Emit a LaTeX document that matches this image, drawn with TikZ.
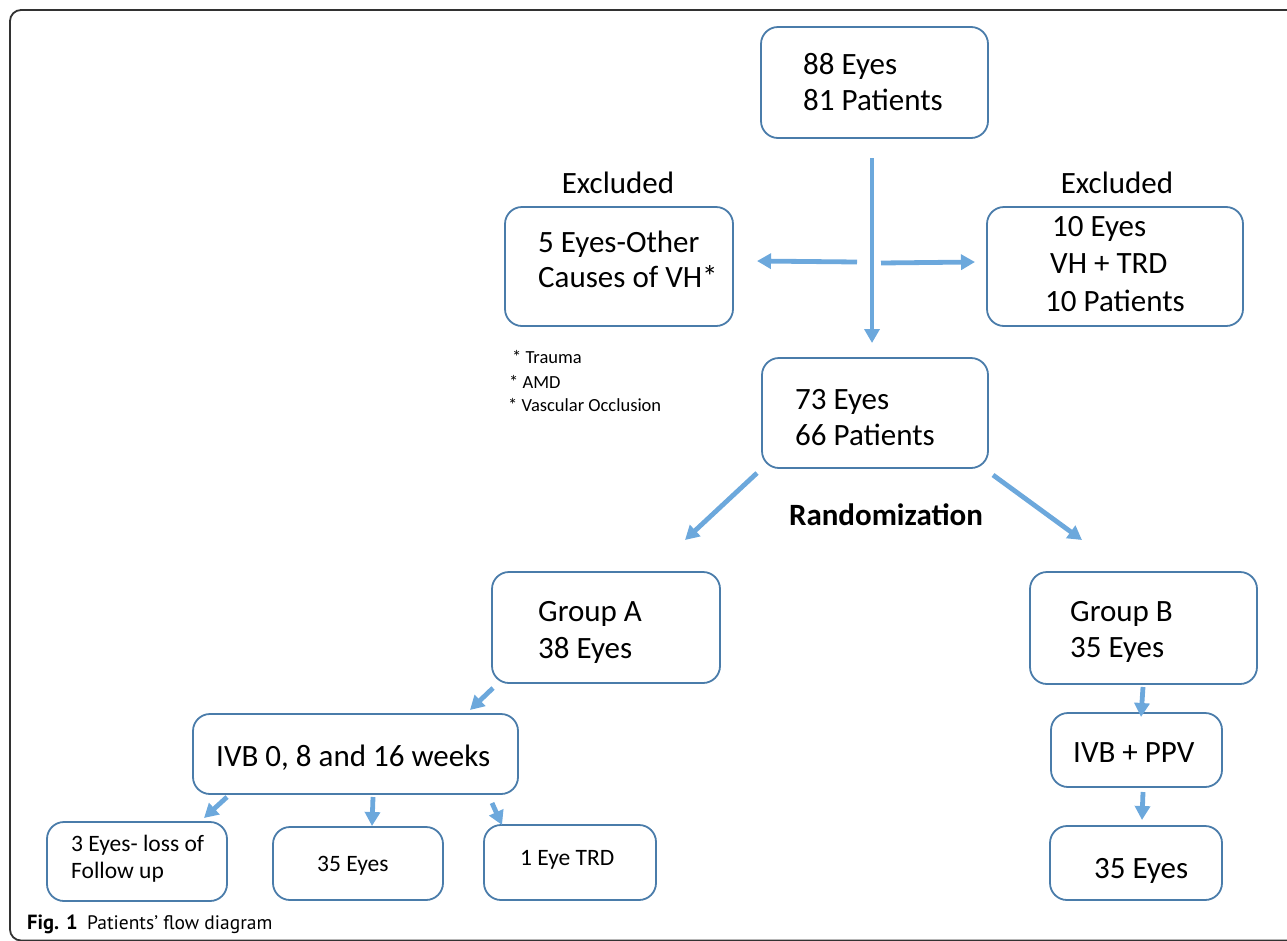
\documentclass[tikz,border=0pt]{standalone}
\usepackage{fontspec}
\setmainfont{Carlito}
\newfontfamily\capfont{PT Sans}
\usetikzlibrary{arrows.meta,fit}
\definecolor{arrowblue}{RGB}{108,168,220}
\definecolor{boxblue}{RGB}{74,124,170}
\definecolor{framegray}{RGB}{50,50,50}
\begin{document}
\begin{tikzpicture}[x=1pt,y=-1pt,
 box/.style={draw=boxblue, line width=1.8pt, rounded corners=17pt, inner sep=0pt},
 big/.style={font=\fontsize{31}{37}\selectfont, inner sep=0pt, anchor=base west},
 mid/.style={font=\fontsize{23.5}{28}\selectfont, inner sep=0pt, anchor=base west},
 small/.style={font=\fontsize{18.5}{22}\selectfont, inner sep=0pt, anchor=base west},
 flow/.style={draw=arrowblue, line width=4.8pt, -{Triangle[length=14pt,width=15pt]}},
]
\useasboundingbox (0,0) rectangle (1287,940);
\draw[framegray, line width=1.8pt, rounded corners=11pt] (1300,10) -- (10,10) -- (10,940.5) -- (1300,940.5);

% boxes
\node[box, fit={(761,27) (988,138)}] (top) {};
\node[box, fit={(505,207) (733,326)}] (exL) {};
\node[box, fit={(987,207) (1243,326)}] (exR) {};
\node[box, fit={(762,358) (988,468)}] (midb) {};
\node[box, fit={(492,572) (720,683)}] (grpA) {};
\node[box, fit={(1030,572) (1257,684)}] (grpB) {};
\node[box, fit={(193,714) (518,794)}] (ivbA) {};
\node[box, fit={(1051,713) (1222,787)}] (ivbB) {};
\node[box, fit={(1050,826) (1222,900)}] (outB) {};
\node[box, fit={(47,822) (227,901)}] (out1) {};
\node[box, fit={(273,827) (443,900)}] (out2) {};
\node[box, fit={(484,825) (656,900)}] (out3) {};

% texts
\node[big] (t1a) at (803,74) {88 Eyes};
\node[big] (t1b) at (803,110) {81 Patients};
\node[big, anchor=base] (exLl) at (618,193) {Excluded};
\node[big, anchor=base] (exRl) at (1117,193) {Excluded};
\node[big] (tLa) at (538,252) {5 Eyes-Other};
\node[big] (tLb) at (538,287) {Causes of VH*};
\node[big] (tRa) at (1052,236) {10 Eyes};
\node[big] (tRb) at (1050,273) {VH + TRD};
\node[big] (tRc) at (1045,311) {10 Patients};
\node[small] (n1) at (512,363) {* Trauma};
\node[small] (n2) at (509,388) {* AMD};
\node[small] (n3) at (508,411) {* Vascular Occlusion};
\node[big] (tMa) at (795,409) {73 Eyes};
\node[big] (tMb) at (795,445) {66 Patients};
\node[big, anchor=base, font=\fontsize{31}{37}\selectfont\bfseries] (rand) at (886,525) {Randomization};
\node[big] (tAa) at (538,621) {Group A};
\node[big] (tAb) at (538,658) {38 Eyes};
\node[big] (tBa) at (1070,621) {Group B};
\node[big] (tBb) at (1070,657) {35 Eyes};
\node[big] (tIA) at (216,766) {IVB 0, 8 and 16 weeks};
\node[big] (tIB) at (1073,762) {IVB + PPV};
\node[big] (tOB) at (1094,878) {35 Eyes};
\node[mid] (tO1a) at (71,851) {3 Eyes- loss of};
\node[mid] (tO1b) at (71,878) {Follow up};
\node[mid] (tO2) at (317,871) {35 Eyes};
\node[mid] (tO3) at (520,865) {1 Eye TRD};
\node[inner sep=0pt, anchor=base west, font=\capfont\fontsize{20.5}{24}\selectfont\bfseries] (capA) at (27,929) {Fig. 1};
\node[inner sep=0pt, anchor=base west, font=\capfont\fontsize{19.5}{24}\selectfont] (capB) at (87,929) {Patients’ flow diagram};

% arrows
\coordinate (a1s) at (872,158); \coordinate (a1e) at (872,343);
\coordinate (a2s) at (857,262); \coordinate (a2e) at (757,261);
\coordinate (a3s) at (881,263); \coordinate (a3e) at (975,262);
\coordinate (a4s) at (757,473); \coordinate (a4e) at (685,540);
\coordinate (a5s) at (993,475); \coordinate (a5e) at (1082,540);
\coordinate (a6s) at (493,688); \coordinate (a6e) at (470,710);
\coordinate (a7s) at (227,797); \coordinate (a7e) at (204,818);
\coordinate (a8s) at (373,797); \coordinate (a8e) at (372,826);
\coordinate (a9s) at (492,803); \coordinate (a9e) at (502,825);
\coordinate (a10s) at (1143,687); \coordinate (a10e) at (1141,717);
\coordinate (a11s) at (1143,792); \coordinate (a11e) at (1142,820);
\foreach \i in {1,...,11} {\draw[flow] (a\i s) -- (a\i e);}
\end{tikzpicture}
\end{document}
